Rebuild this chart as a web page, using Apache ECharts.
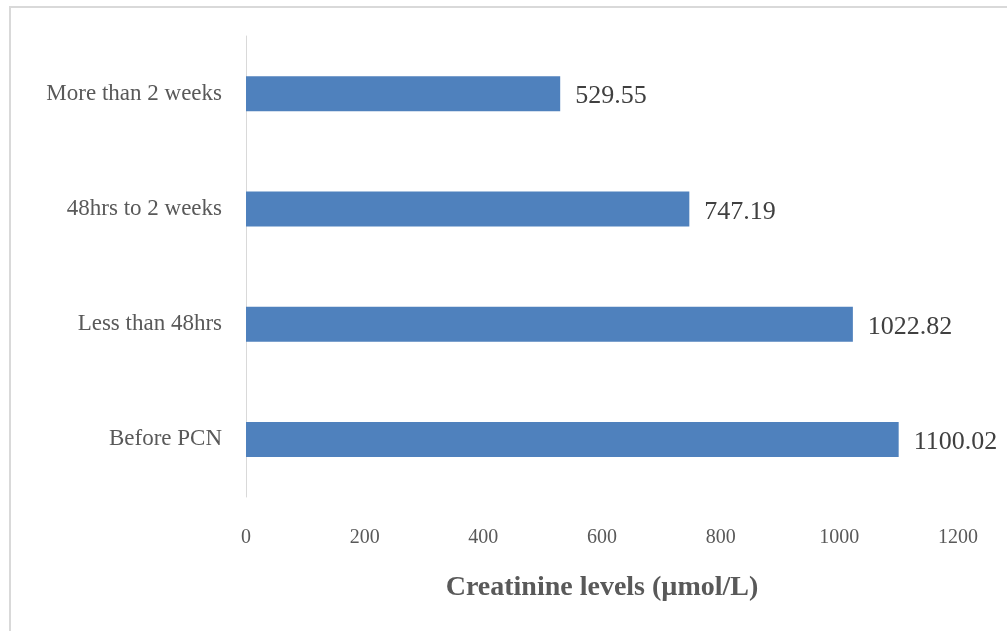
<!DOCTYPE html>
<html>
<head>
<meta charset="utf-8">
<script src="https://cdn.jsdelivr.net/npm/echarts@6/dist/echarts.min.js"></script>
<style>
  html, body { margin: 0; padding: 0; background: #fff; }
  #main { width: 1007px; height: 631px; }
</style>
</head>
<body>
<div id="main"></div>
<script>
var categories = ['Before PCN', 'Less than 48hrs', '48hrs to 2 weeks', 'More than 2 weeks'];
var values = [1100.02, 1022.82, 747.19, 529.55];
var labels = ['1100.02', '1022.82', '747.19', '529.55'];

var myChart = echarts.init(document.getElementById('main'));

var option = {
    backgroundColor: '#ffffff',
    animation: false,
    graphic: [{
        type: 'rect',
        shape: { x: 10, y: 7, width: 1100, height: 700 },
        style: { fill: 'none', stroke: '#d9d9d9', lineWidth: 2 },
        silent: true
    }],
    grid: {
        left: 246,
        right: 49,
        top: 36,
        bottom: 134,
        containLabel: false
    },
    xAxis: {
        type: 'value',
        min: 0,
        max: 1200,
        interval: 200,
        name: 'Creatinine levels (µmol/L)',
        nameLocation: 'middle',
        nameGap: 77,
        nameTextStyle: {
            fontFamily: 'Liberation Serif',
            fontSize: 28,
            fontWeight: 'bold',
            color: '#595959'
        },
        axisLine: { show: false },
        axisTick: { show: false },
        splitLine: { show: false },
        axisLabel: {
            margin: 31,
            fontFamily: 'Liberation Serif',
            fontSize: 20,
            color: '#595959',
            formatter: function (v) { return String(v); }
        }
    },
    yAxis: {
        type: 'category',
        data: categories,
        axisLine: { show: true, lineStyle: { color: '#d9d9d9', width: 1 } },
        axisTick: { show: false },
        axisLabel: {
            margin: 24,
            fontFamily: 'Liberation Serif',
            fontSize: 23,
            color: '#595959'
        }
    },
    series: [{
        type: 'bar',
        data: values,
        barWidth: 35,
        itemStyle: { color: '#4f81bd' },
        label: {
            show: true,
            position: 'right',
            distance: 15,
            offset: [0, 3],
            formatter: function (p) { return labels[p.dataIndex]; },
            fontFamily: 'Liberation Serif',
            fontSize: 26,
            color: '#404040'
        }
    }]
};

myChart.setOption(option);
</script>
</body>
</html>
